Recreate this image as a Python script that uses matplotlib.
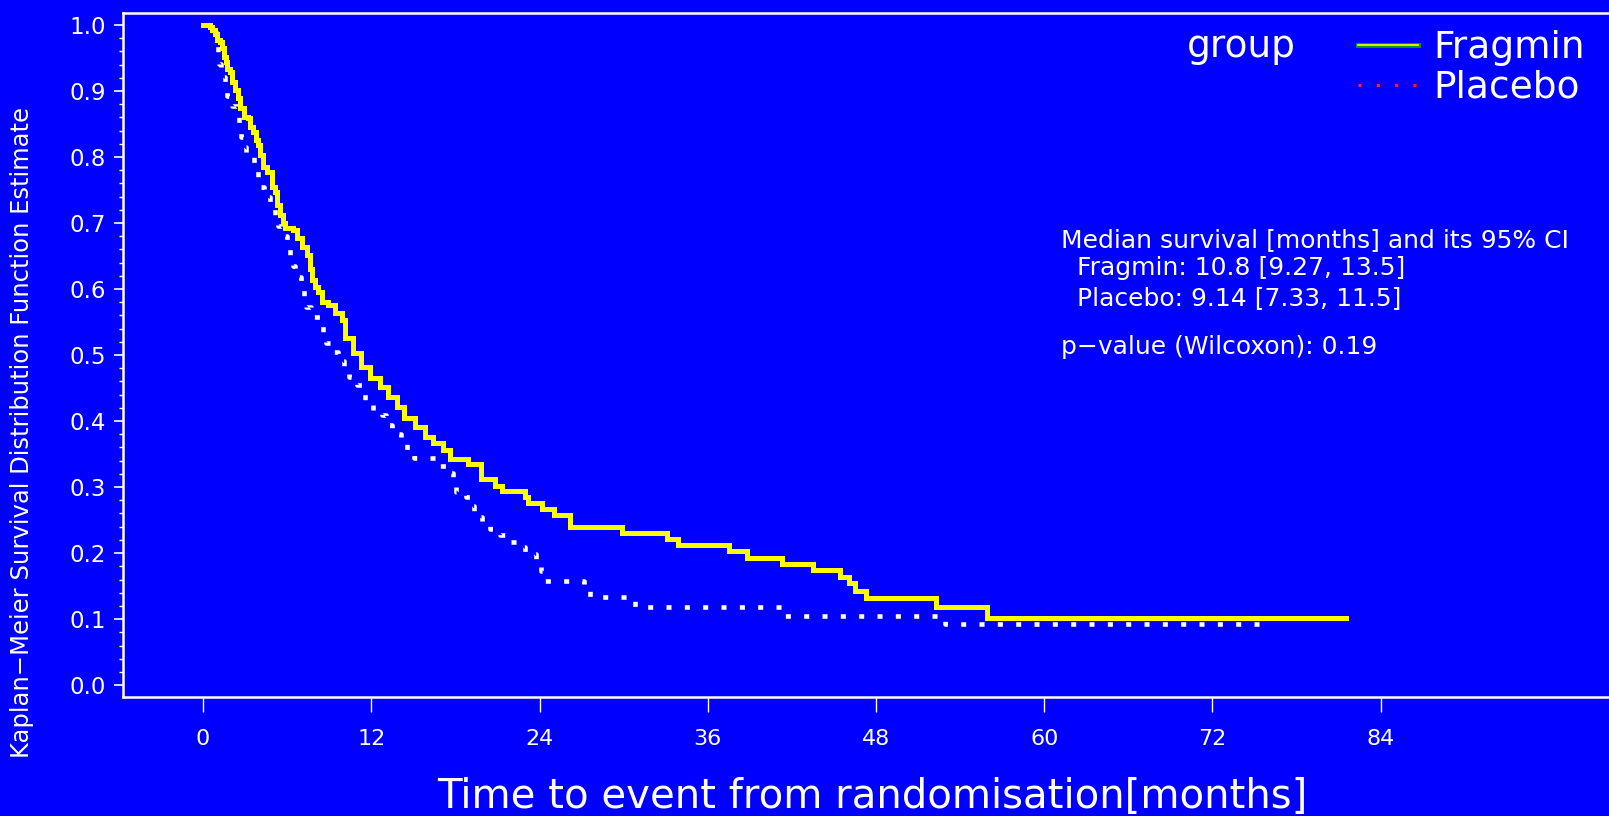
import numpy as np
import matplotlib
matplotlib.use("Agg")
import matplotlib.pyplot as plt
from matplotlib.lines import Line2D
from matplotlib.ticker import MultipleLocator, FormatStrFormatter
import matplotlib.patheffects as pe

# Kaplan-Meier step estimates (months, survival)
fragmin_t = [0, 0.5, 0.62, 0.86, 0.98, 1.21, 1.33, 1.52, 1.62, 1.69, 1.93, 2.05, 2.28,
             2.47, 2.64, 2.95, 3.23, 3.35, 3.59, 3.78, 3.95, 4.07, 4.3, 4.54, 4.9,
             5.14, 5.25, 5.49, 5.73, 5.85, 6.44, 6.68, 7.04, 7.4, 7.63, 7.75, 7.99,
             8.23, 8.47, 8.94, 9.42, 9.9, 10.1, 10.7, 11.3, 11.9,
             12.6, 13.2, 13.8, 14.3, 15.1, 15.8, 16.4, 17.1, 17.6, 18.9, 19.8, 20.8,
             21.3, 23.0, 23.2, 24.2, 25.0, 26.2, 29.9, 33.1, 33.9, 37.5, 38.8, 41.3,
             43.5, 45.4, 46.1, 46.5, 47.3, 52.3, 55.9, 81.5]
fragmin_s = [1.0, 0.997, 0.992, 0.987, 0.977, 0.975, 0.965, 0.952, 0.944, 0.934, 0.929,
             0.914, 0.902, 0.889, 0.874, 0.861, 0.859, 0.846, 0.838, 0.826, 0.818,
             0.803, 0.785, 0.778, 0.755, 0.747, 0.727, 0.712, 0.700, 0.692, 0.689,
             0.677, 0.664, 0.652, 0.631, 0.614, 0.603, 0.596, 0.581, 0.576, 0.563,
             0.553, 0.526, 0.503, 0.482, 0.465, 0.452, 0.436, 0.421, 0.404,
             0.391, 0.376, 0.367, 0.356, 0.342, 0.335, 0.312, 0.302, 0.294, 0.285,
             0.276, 0.267, 0.258, 0.240, 0.231, 0.221, 0.212, 0.203, 0.192, 0.183,
             0.174, 0.164, 0.155, 0.142, 0.132, 0.118, 0.101, 0.101]

placebo_t = [0, 0.4, 0.9, 1.1, 1.15, 1.3, 1.55, 1.7, 2.05, 2.4, 2.55, 2.7, 2.9, 3.05,
             3.6, 3.9, 3.95, 4.35, 4.75, 5.1, 5.35, 5.6, 6.0, 6.2, 6.4, 6.55, 7.0, 7.2,
             7.35, 7.7, 8.4, 8.55, 8.75, 9.1, 9.6, 10.05, 10.4, 11.0, 11.35, 11.55,
             12.1, 12.8, 13.05, 13.5, 14.1, 14.55, 15.05, 16.9, 17.4, 17.8, 18.05,
             18.75, 19.2, 19.35, 19.9, 20.5, 21.2, 21.75, 22.4, 22.95, 23.75, 24.1,
             24.4, 27.2, 27.6, 30.8, 41.5, 52.9, 75.4]
placebo_s = [1.0, 0.99, 0.974, 0.958, 0.941, 0.921, 0.908, 0.892, 0.877, 0.862, 0.845,
             0.83, 0.815, 0.8, 0.786, 0.771, 0.755, 0.739, 0.727, 0.712, 0.695, 0.68,
             0.665, 0.648, 0.635, 0.618, 0.603, 0.589, 0.573, 0.558, 0.552, 0.535,
             0.518, 0.505, 0.491, 0.479, 0.467, 0.455, 0.441, 0.426, 0.415, 0.409,
             0.394, 0.38, 0.37, 0.356, 0.344, 0.332, 0.321, 0.308, 0.292, 0.285,
             0.271, 0.255, 0.246, 0.237, 0.227, 0.217, 0.209, 0.198, 0.188, 0.173,
             0.158, 0.144, 0.133, 0.118, 0.105, 0.092, 0.092]

groups = ["Fragmin", "Placebo"]
x_ticks = [0, 12, 24, 36, 48, 60, 72, 84]
stats_lines = ["Median survival [months] and its 95% CI",
               "  Fragmin: 10.8 [9.27, 13.5]",
               "  Placebo: 9.14 [7.33, 11.5]",
               "p\u2212value (Wilcoxon): 0.19"]

BLUE = "#0000FF"
W, H = 1609, 816

plt.rcParams["font.family"] = ["DejaVu Sans"]

fig = plt.figure(figsize=(W / 100, H / 100), dpi=100, facecolor=BLUE)
ax = fig.add_axes([123 / W, 1 - 697 / H, 1489 / W, (697 - 12.5) / H])
ax.set_facecolor(BLUE)

ax.plot(fragmin_t, fragmin_s, drawstyle="steps-post", color="#FFFF00", lw=3.6,
        solid_joinstyle="miter", zorder=3)
ax.plot(placebo_t, placebo_s, drawstyle="steps-post", color="white", lw=3.3,
        linestyle=(0, (1.1, 2.9)), zorder=2)

ax.set_xlim(-5.71, 100.5)
ax.set_ylim(-0.018, 1.019)
ax.set_xticks(x_ticks)
ax.set_yticks(np.arange(0, 1.01, 0.1))
ax.yaxis.set_major_formatter(FormatStrFormatter("%.1f"))
ax.yaxis.set_minor_locator(MultipleLocator(0.02))

for side in ["left", "top", "bottom"]:
    ax.spines[side].set_color("white")
    ax.spines[side].set_linewidth(1.8)
ax.spines["right"].set_visible(False)

ax.tick_params(axis="x", direction="out", length=11, width=1, colors="white",
               pad=12, labelsize=16)
ax.tick_params(axis="y", which="major", direction="out", length=6.5, width=1.2,
               colors="white", pad=6, labelsize=16.5)
ax.tick_params(axis="y", which="minor", direction="out", length=3, width=1,
               colors="white")

fig.text(22 / W, 1 - 432 / H, "Kaplan\u2212Meier Survival Distribution Function Estimate",
         rotation=90, ha="center", va="center", color="white", fontsize=17.5)
fig.text(872 / W, 1 - 797 / H, "Time to event from randomisation[months]",
         ha="center", va="center", color="white", fontsize=29)

# legend
fig.text(1187 / W, 1 - 57 / H, "group", ha="left", va="baseline", color="white",
         fontsize=27)
h_frag = Line2D([], [], color="#FFFF00", lw=1.2,
                path_effects=[pe.Stroke(linewidth=3.5, foreground="#00A000"), pe.Normal()])
h_plac = Line2D([], [], color="#FF2020", lw=2.2, linestyle=(0, (1, 5)))
leg = ax.legend([h_frag, h_plac], groups, loc="upper left",
                bbox_transform=fig.transFigure,
                bbox_to_anchor=(1358 / W, 1 - 30 / H), frameon=False,
                fontsize=27, handlelength=1.6, handletextpad=0.4,
                labelspacing=0.1, borderpad=0, borderaxespad=0)
for t in leg.get_texts():
    t.set_color("white")

# statistics box
ys = [240, 268, 298, 347]
for line, y in zip(stats_lines, ys):
    fig.text(1061 / W, 1 - y / H, line, ha="left", va="center", color="white",
             fontsize=18)

fig.savefig("out.png", dpi=100, facecolor=BLUE)
